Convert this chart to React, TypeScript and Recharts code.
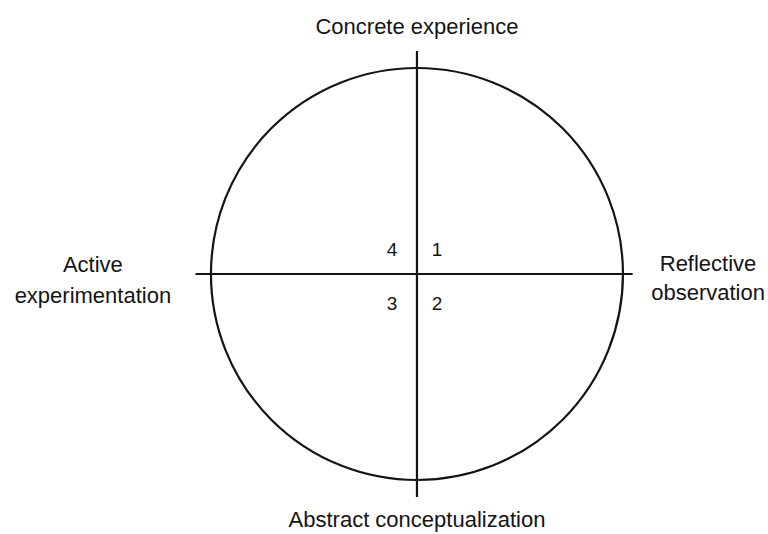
import { ScatterChart, Scatter, XAxis, YAxis, ReferenceLine, ReferenceDot } from 'recharts';

// Diagram space: the circle has radius 1, centred on (0, 0)
const xDomain = [-2.024, 1.704];
const yDomain = [-1.262, 1.33];

const verticalAxis = [{ x: 0, y: -1.083 }, { x: 0, y: 1.083 }];
const horizontalAxis = [{ x: -1.075, y: 0 }, { x: 1.047, y: 0 }];

const poleLabels = [
  { text: 'Concrete experience', x: 0, y: 1.199 },
  { text: 'Abstract conceptualization', x: 0, y: -1.19 },
  { text: 'Reflective', x: 1.413, y: 0.053 },
  { text: 'observation', x: 1.413, y: -0.092 },
  { text: 'Active', x: -1.573, y: 0.044 },
  { text: 'experimentation', x: -1.573, y: -0.102 },
];

const quadrantLabels = [
  { text: '1', x: 0.097, y: 0.117 },
  { text: '2', x: 0.097, y: -0.141 },
  { text: '3', x: -0.121, y: -0.141 },
  { text: '4', x: -0.121, y: 0.117 },
];

const INK = '#141414';
const FONT = '"Liberation Sans", Arial, Helvetica, sans-serif';

function labelShape(size: number) {
  return (props: any) => (
    <text
      x={props.cx}
      y={props.cy}
      textAnchor="middle"
      dominantBaseline="central"
      fontFamily={FONT}
      fontSize={size}
      fill={INK}
    >
      {props.payload.text}
    </text>
  );
}

export default function App() {
  return (
    <div style={{ position: 'absolute', left: 0, top: 0, background: '#fff' }}>
      <ScatterChart width={768} height={534} margin={{ top: 0, right: 0, bottom: 0, left: 0 }}>
        <XAxis type="number" dataKey="x" domain={xDomain} hide allowDataOverflow />
        <YAxis type="number" dataKey="y" domain={yDomain} hide allowDataOverflow />
        <ReferenceDot x={0} y={0} r={206} fill="none" stroke={INK} strokeWidth={2.2} />
        <ReferenceLine segment={verticalAxis} stroke={INK} strokeWidth={2.2} />
        <ReferenceLine segment={horizontalAxis} stroke={INK} strokeWidth={2.2} />
        <Scatter data={poleLabels} shape={labelShape(22)} isAnimationActive={false} />
        <Scatter data={quadrantLabels} shape={labelShape(19)} isAnimationActive={false} />
      </ScatterChart>
    </div>
  );
}
